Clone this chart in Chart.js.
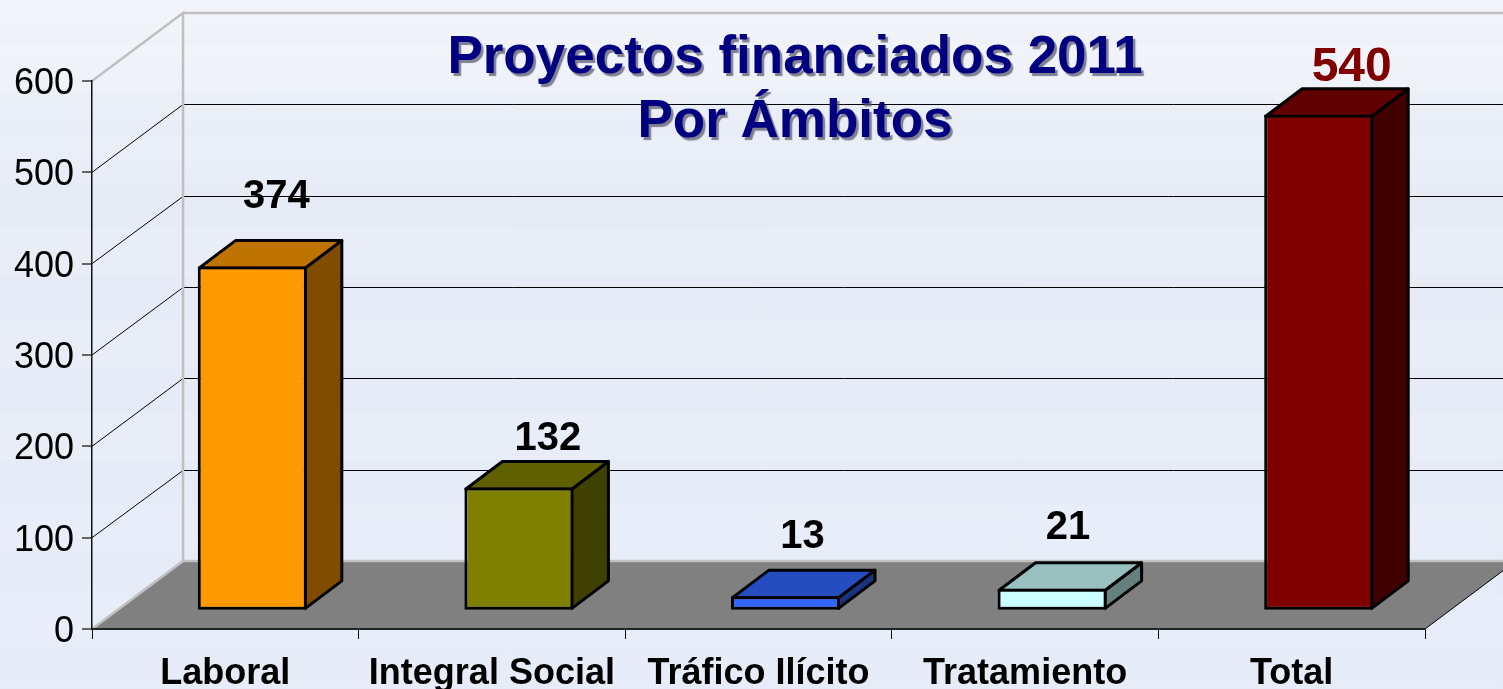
<!DOCTYPE html>
<html>
<head>
<meta charset="utf-8">
<title>Proyectos financiados 2011</title>
<script src="https://cdn.jsdelivr.net/npm/chart.js@4/dist/chart.umd.min.js"></script>
<style>
  html, body { margin: 0; padding: 0; overflow: hidden; }
  body {
    width: 1503px;
    height: 689px;
    background:
      repeating-linear-gradient(0deg, rgba(120,140,180,0.018) 0 46px, rgba(255,255,255,0) 46px 92px),
      linear-gradient(180deg, #f6f7fb 0px, #f0f3f9 60px, #e8edf7 170px, #e8eef9 689px);
  }
  canvas { display: block; }
</style>
</head>
<body>
<canvas id="chart" width="1503" height="689"></canvas>
<script>
const categories = ["Laboral", "Integral Social", "Tráfico Ilícito", "Tratamiento", "Total"];
const projects = [374, 132, 13, 21, 540];
const yTicks = [0, 100, 200, 300, 400, 500, 600];
const titleLines = ["Proyectos financiados 2011", "Por Ámbitos"];

const frontColors = ["#ff9900", "#808000", "#3366ff", "#ccffff", "#800000"];
const topColors = ["#bf7300", "#606000", "#264dbf", "#99bfbf", "#600000"];
const sideColors = ["#804d00", "#404000", "#1a3380", "#668080", "#400000"];

// label placement relative to the front top corner of each bar, set by hand like the original
const labelOffsetX = [24, 29, 17, 16, 33];
const labelOffsetY = [-58, -37, -48, -50, -34];
const labelSizes = [40, 40, 40, 40, 48];
const labelColors = ["#000000", "#000000", "#000000", "#000000", "#800000"];

const FONT = '"Liberation Sans", Arial, sans-serif';

// 3d box depth of the whole floor, and where the bars sit on it
const wallDX = 91, wallDY = 68;
const barDX = 27, barDY = 21;
const boxDX = 36.5, boxDY = 27.5;

// back wall, side wall and floor
const wallsPlugin = {
  id: "walls",
  beforeDraw(chart) {
    const ctx = chart.ctx;
    const { left, right } = chart.chartArea;
    const y = chart.scales.y;
    const floorY = y.getPixelForValue(0);
    const topY = y.getPixelForValue(yTicks[yTicks.length - 1]);

    ctx.save();

    // floor
    ctx.fillStyle = "#808080";
    ctx.beginPath();
    ctx.moveTo(left, floorY);
    ctx.lineTo(left + wallDX, floorY - wallDY);
    ctx.lineTo(right + wallDX, floorY - wallDY);
    ctx.lineTo(right, floorY);
    ctx.closePath();
    ctx.fill();

    // gridlines over both walls
    ctx.strokeStyle = "#000000";
    ctx.lineWidth = 1;
    yTicks.slice(1, -1).forEach(v => {
      const py = y.getPixelForValue(v);
      const backY = Math.round(py - wallDY) + 0.5;
      ctx.beginPath();
      ctx.moveTo(left, py);
      ctx.lineTo(left + wallDX, backY);
      ctx.lineTo(right + wallDX, backY);
      ctx.stroke();
    });

    // right edge of the floor
    ctx.strokeStyle = "#000000";
    ctx.beginPath();
    ctx.moveTo(right, floorY);
    ctx.lineTo(right + wallDX, floorY - wallDY);
    ctx.stroke();

    // grey outline of the walls
    ctx.strokeStyle = "#c0c0c0";
    ctx.lineWidth = 2.5;
    ctx.beginPath();
    ctx.moveTo(left, floorY);
    ctx.lineTo(left + wallDX, floorY - wallDY);
    ctx.lineTo(left + wallDX, topY - wallDY);
    ctx.lineTo(left, topY);
    ctx.moveTo(left + wallDX, topY - wallDY);
    ctx.lineTo(right + wallDX, topY - wallDY);
    ctx.moveTo(left + wallDX, floorY - wallDY);
    ctx.lineTo(right + wallDX, floorY - wallDY);
    ctx.stroke();

    ctx.restore();
  }
};

function face(ctx, points, color) {
  ctx.fillStyle = color;
  ctx.beginPath();
  points.forEach((p, i) => i === 0 ? ctx.moveTo(p[0], p[1]) : ctx.lineTo(p[0], p[1]));
  ctx.closePath();
  ctx.fill();
  ctx.stroke();
}

// side and top of the boxes, then shift the library's own bars onto the floor
const boxPlugin = {
  id: "box",
  beforeDatasetDraw(chart, args) {
    const ctx = chart.ctx;
    ctx.save();
    ctx.translate(barDX, -barDY);
    ctx.strokeStyle = "#000000";
    ctx.lineWidth = 3;
    ctx.lineJoin = "round";
    args.meta.data.forEach((bar, i) => {
      const r = bar.x + bar.width / 2 - 1.5;
      const l = bar.x - bar.width / 2 + 1.5;
      const t = bar.y + 1.5;
      const b = bar.base - 1.5;
      face(ctx, [[r, t], [r + boxDX, t - boxDY], [r + boxDX, b - boxDY], [r, b]], sideColors[i]);
      face(ctx, [[l, t], [l + boxDX, t - boxDY], [r + boxDX, t - boxDY], [r, t]], topColors[i]);
    });
  },
  afterDatasetDraw(chart) {
    chart.ctx.restore();
  }
};

// value labels and the title sit on top of everything
const textPlugin = {
  id: "text",
  afterDatasetsDraw(chart) {
    const ctx = chart.ctx;
    const meta = chart.getDatasetMeta(0);
    ctx.save();
    ctx.textAlign = "center";
    ctx.textBaseline = "alphabetic";
    meta.data.forEach((bar, i) => {
      ctx.font = "bold " + labelSizes[i] + "px " + FONT;
      ctx.fillStyle = labelColors[i];
      ctx.fillText(String(projects[i]), bar.x + barDX + labelOffsetX[i], bar.y - barDY + labelOffsetY[i]);
    });

    ctx.font = "bold 53px " + FONT;
    ctx.fillStyle = "#000080";
    ctx.shadowColor = "rgba(90,90,110,0.75)";
    ctx.shadowOffsetX = 2.5;
    ctx.shadowOffsetY = 2.5;
    ctx.shadowBlur = 1;
    ctx.fillText(titleLines[0], 795, 73);
    ctx.fillText(titleLines[1], 795, 137);
    ctx.restore();
  }
};

new Chart(document.getElementById("chart"), {
  type: "bar",
  data: {
    labels: categories,
    datasets: [{
      label: "Proyectos financiados",
      data: projects,
      backgroundColor: frontColors,
      borderColor: "#000000",
      borderWidth: 3,
      borderSkipped: false,
      barPercentage: 0.409,
      categoryPercentage: 1,
      base: -2,
      clip: false
    }]
  },
  options: {
    responsive: false,
    animation: false,
    layout: { padding: { top: 81, right: 78, left: 0, bottom: 0 } },
    plugins: {
      legend: { display: false },
      tooltip: { enabled: false }
    },
    scales: {
      x: {
        afterFit: s => { s.height = 60; },
        grid: { offset: true, drawOnChartArea: false, color: "#111111", tickLength: 10, lineWidth: 1 },
        border: { color: "#222222", width: 2 },
        ticks: {
          color: "#000000",
          padding: 13,
          maxRotation: 0,
          autoSkip: false,
          font: { family: FONT, size: 36, weight: "bold" }
        }
      },
      y: {
        min: 0,
        max: 600,
        afterFit: s => { s.width = 92; },
        afterBuildTicks: s => { s.ticks = yTicks.map(v => ({ value: v })); },
        grid: { drawOnChartArea: false, color: "#666666", tickLength: 10, lineWidth: 2 },
        border: { color: "#111111", width: 1.5 },
        ticks: {
          color: "#000000",
          padding: 8,
          labelOffset: 3,
          font: { family: FONT, size: 36 }
        }
      }
    }
  },
  plugins: [wallsPlugin, boxPlugin, textPlugin]
});
</script>
</body>
</html>
